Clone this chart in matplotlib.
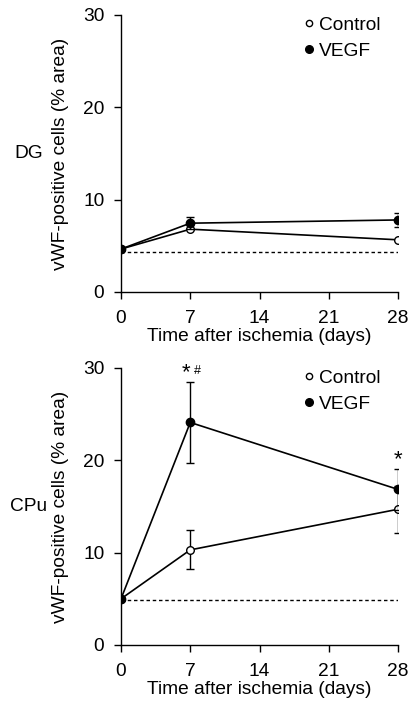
import matplotlib.pyplot as plt

plt.rcParams['font.family'] = ['Liberation Sans', 'DejaVu Sans']

days = [0, 7, 28]
xticks = [0, 7, 14, 21, 28]

# DG panel
dg_control = [4.65, 6.8, 5.65]
dg_control_err = [0, 0, 0]
dg_vegf = [4.65, 7.45, 7.8]
dg_vegf_err = [0, 0.65, 0.8]
dg_baseline = 4.3

# CPu panel
cpu_control = [5.0, 10.3, 14.7]
cpu_control_err = [0, 2.1, 2.55]
cpu_vegf = [5.0, 24.1, 16.85]
cpu_vegf_err = [0, 4.35, 2.25]
cpu_baseline = 4.85

fs = 13.8

fig = plt.figure(figsize=(4.15, 7.13), dpi=100)
ax1 = fig.add_axes([0.2916, 0.5905, 0.6675, 0.3885])
ax2 = fig.add_axes([0.2916, 0.0954, 0.6675, 0.3885])


def draw_panel(ax, ctrl, ctrl_err, vegf, vegf_err, base, region):
    ax.plot([0, 28], [base, base], ls=(0, (2.5, 2)), color='black', lw=1)
    ax.errorbar(days, ctrl, yerr=ctrl_err, color='black', lw=1.2, capsize=3,
                marker='o', markersize=5.5, mfc='white', mec='black', mew=1,
                elinewidth=1, zorder=3)
    ax.errorbar(days, vegf, yerr=vegf_err, color='black', lw=1.2, capsize=3,
                marker='o', markersize=6, mfc='black', mec='black',
                elinewidth=1, zorder=4)
    ax.set_xlim(0, 28)
    ax.set_ylim(0, 30)
    ax.set_xticks(xticks)
    ax.set_yticks([0, 10, 20, 30])
    ax.spines['top'].set_visible(False)
    ax.spines['right'].set_visible(False)
    ax.tick_params(direction='out', length=5, width=1, labelsize=fs, pad=7)
    ax.tick_params(axis='x', pad=8)
    ax.set_xlabel('Time after ischemia (days)', fontsize=fs, labelpad=0.5)
    ax.set_ylabel('vWF-positive cells (% area)', fontsize=fs, labelpad=10)
    ax.plot([], [], 'o', mfc='white', mec='black', markersize=4.5, label='Control')
    ax.plot([], [], 'o', mfc='black', mec='black', markersize=5.5, label='VEGF')
    ax.legend(loc='upper left', frameon=False, fontsize=fs, handlelength=0.5,
              handletextpad=0.3, borderaxespad=0.0, borderpad=0,
              labelspacing=0.45, bbox_to_anchor=(0.66, 0.995))
    ax.text(-0.335, 0.5, region, transform=ax.transAxes, fontsize=fs,
            ha='center', va='center')
    for s in ['left', 'bottom']:
        ax.spines[s].set_linewidth(1)


draw_panel(ax1, dg_control, dg_control_err, dg_vegf, dg_vegf_err, dg_baseline, 'DG')
draw_panel(ax2, cpu_control, cpu_control_err, cpu_vegf, cpu_vegf_err, cpu_baseline, 'CPu')

ax2.text(6.55, 28.3, '*', fontsize=16, ha='center', va='bottom')
ax2.text(7.7, 29.0, '#', fontsize=9, ha='center', va='bottom')
ax2.text(28, 18.9, '*', fontsize=16, ha='center', va='bottom')

fig.savefig('out.png', dpi=100)
